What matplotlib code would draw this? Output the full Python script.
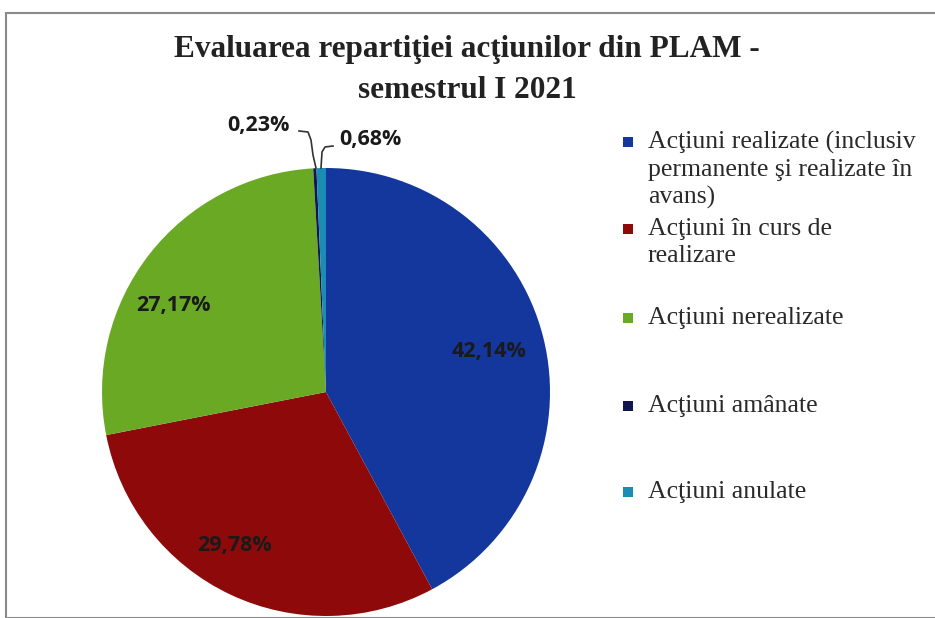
import numpy as np
import matplotlib.pyplot as plt
from matplotlib.patches import Rectangle

categories = [
    "Acţiuni realizate (inclusiv\npermanente şi realizate în\navans)",
    "Acţiuni în curs de\nrealizare",
    "Acţiuni nerealizate",
    "Acţiuni amânate",
    "Acţiuni anulate",
]
values = [42.14, 29.78, 27.17, 0.23, 0.68]
value_labels = ["42,14%", "29,78%", "27,17%", "0,23%", "0,68%"]
colors = ["#13379c", "#8e0a0a", "#6aa923", "#111650", "#1b8cb3"]

W, H = 935, 618
fig = plt.figure(figsize=(W / 100, H / 100), dpi=100)

# outer frame
fig.patches.append(Rectangle((6 / W, 0), 1.2, (H - 13) / H, transform=fig.transFigure,
                             fill=False, edgecolor="#8a8a8a", linewidth=1.5))

title_style = dict(ha="center", va="center", fontsize=22.5, fontweight="bold",
                   family="Liberation Serif", color="#222222")
fig.text(467 / W, 1 - 50 / H, "Evaluarea repartiţiei acţiunilor din PLAM -", **title_style)
fig.text(467 / W, 1 - 91 / H, "semestrul I 2021", **title_style)

# pie
cx, cy, r = 326, 392, 224
ax = fig.add_axes([(cx - r) / W, (H - cy - r) / H, 2 * r / W, 2 * r / H])
wedges, _ = ax.pie(values, colors=colors, startangle=90, counterclock=False,
                   wedgeprops=dict(linewidth=0))
ax.set_aspect("equal")
ax.set_xlim(-1, 1)
ax.set_ylim(-1, 1)
ax.axis("off")

def px(x, y):
    return (x - cx) / r, (cy - y) / r

lab_style = dict(ha="center", va="center", fontsize=15.5, fontweight="bold",
                 family="Open Sans", color="#1a1a1a", clip_on=False)
# label placement (pixel positions in the original layout)
lab_pos = [(489, 352), (234, 545), (173, 305), (258, 125), (370, 140)]
for lab, (x, y) in zip(value_labels, lab_pos):
    ax.text(*px(x, y), lab, **lab_style)

# leader lines for the two thin slices
lx, ly = zip(px(299, 131), px(308, 132), px(311, 140), px(313, 155), px(316, 168))
ax.plot(lx, ly, color="#333333", lw=1.2, clip_on=False)
lx, ly = zip(px(333, 146), px(325, 147), px(322, 152), px(321, 168))
ax.plot(lx, ly, color="#333333", lw=1.2, clip_on=False)

# legend
leg_y = [142, 229, 318, 406, 492]
for lab, c, y in zip(categories, colors, leg_y):
    fig.patches.append(Rectangle(((628 - 5) / W, (H - y - 5) / H), 10 / W, 10 / H,
                                 transform=fig.transFigure, facecolor=c, edgecolor="none"))
    fig.text(648 / W, 1 - (y - 11) / H, lab, ha="left", va="top", fontsize=18.5,
             family="Liberation Serif", color="#2a2a2a", linespacing=1.28)

fig.savefig("out.png", dpi=100)
